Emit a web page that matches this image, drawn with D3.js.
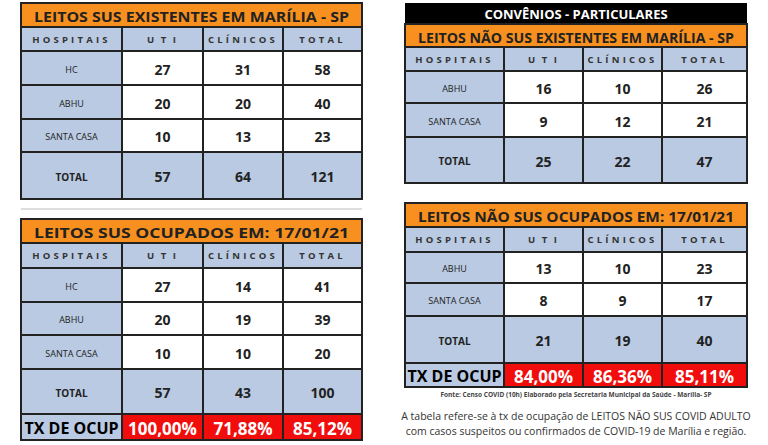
<!DOCTYPE html>
<html><head><meta charset="utf-8">
<script src="https://cdn.jsdelivr.net/npm/d3@7"></script>
<style>body{margin:0;background:#fff}svg{display:block}text{font-family:"Open Sans",sans-serif}</style>
</head><body><svg id="c" width="768" height="445"></svg>
<script>
const columns = ['HOSPITAIS', 'U T I', 'CLÍNICOS', 'TOTAL']

// SUS beds
const susHospitals = ['HC', 'ABHU', 'SANTA CASA']
const susExistUti = [27, 20, 10]
const susExistClin = [31, 20, 13]
const susOccUti = [27, 20, 10]
const susOccClin = [14, 19, 10]
const susOccRate = ['100,00%', '71,88%', '85,12%']

// non-SUS beds
const privHospitals = ['ABHU', 'SANTA CASA']
const privExistUti = [16, 9]
const privExistClin = [10, 12]
const privOccUti = [13, 8]
const privOccClin = [10, 9]
const privOccRate = ['84,00%', '86,36%', '85,11%']

const ORANGE = '#f7901e', BLUE = '#b9cae2', RED = '#f20d0d'
const svg = d3.select('#c')

function rowsOf(names, uti, clin) {
  const rows = names.map((n, i) => [n, uti[i], clin[i], uti[i] + clin[i]])
  rows.push(['TOTAL', d3.sum(uti), d3.sum(clin), d3.sum(uti) + d3.sum(clin)])
  return rows
}

// cfg: x0,x edges, y edges for title/header/rows
function table(cfg, title, rows, rate) {
  const g = svg.append('g')
  const x = cfg.cols
  const y = cfg.rows
  const w = x[4] - x[0]
  if (cfg.banner) {
    g.append('rect').attr('x', x[0]).attr('y', cfg.banner[0]).attr('width', w)
      .attr('height', cfg.banner[1] - cfg.banner[0]).attr('fill', '#000')
    g.append('text').attr('x', x[0] + w / 2).attr('y', (cfg.banner[0] + cfg.banner[1]) / 2)
      .attr('text-anchor', 'middle').attr('dominant-baseline', 'central')
      .attr('fill', '#fff').attr('font-family', 'Liberation Sans, Arial').attr('font-weight', 700)
      .attr('font-size', 13).text('CONVÊNIOS - PARTICULARES')
  }
  g.append('rect').attr('x', x[0]).attr('y', y[0]).attr('width', w).attr('height', y[1] - y[0])
    .attr('fill', ORANGE).attr('stroke', '#222').attr('stroke-width', 2)
  g.append('text').attr('x', x[0] + w / 2).attr('y', (y[0] + y[1]) / 2 + 1)
    .attr('text-anchor', 'middle').attr('dominant-baseline', 'central')
    .attr('font-weight', 700).attr('font-size', 15).attr('fill', '#222')
    .attr('textLength', w - 26).attr('lengthAdjust', 'spacingAndGlyphs').text(title)

  // header
  columns.forEach((c, j) => {
    g.append('rect').attr('x', x[j]).attr('y', y[1]).attr('width', x[j + 1] - x[j]).attr('height', y[2] - y[1])
      .attr('fill', BLUE).attr('stroke', '#222').attr('stroke-width', 2)
    g.append('text').attr('x', (x[j] + x[j + 1]) / 2).attr('y', (y[1] + y[2]) / 2)
      .attr('text-anchor', 'middle').attr('dominant-baseline', 'central')
      .attr('font-weight', 700).attr('font-size', 9.5).attr('letter-spacing', c.includes(' ') ? 2 : 3.2)
      .attr('fill', '#333').text(c)
  })
  rows.forEach((r, i) => {
    const top = y[i + 2], bot = y[i + 3]
    const isTotal = i === rows.length - 1
    r.forEach((v, j) => {
      g.append('rect').attr('x', x[j]).attr('y', top).attr('width', x[j + 1] - x[j]).attr('height', bot - top)
        .attr('fill', j === 0 || isTotal ? BLUE : '#fff').attr('stroke', '#222').attr('stroke-width', 2)
      g.append('text').attr('x', (x[j] + x[j + 1]) / 2).attr('y', (top + bot) / 2 + 1)
        .attr('text-anchor', 'middle').attr('dominant-baseline', 'central')
        .attr('font-weight', j === 0 && !isTotal ? 400 : 700)
        .attr('font-size', j === 0 ? (isTotal ? 10 : 9) : 14)
        .attr('fill', '#222').text(v)
    })
  })
  if (rate) {
    const top = y[rows.length + 2], bot = y[rows.length + 3]
    ;['TX DE OCUP'].concat(rate).forEach((v, j) => {
      g.append('rect').attr('x', x[j]).attr('y', top).attr('width', x[j + 1] - x[j]).attr('height', bot - top)
        .attr('fill', j === 0 ? BLUE : RED).attr('stroke', '#222').attr('stroke-width', 2)
      g.append('text').attr('x', (x[j] + x[j + 1]) / 2).attr('y', (top + bot) / 2 + 1)
        .attr('text-anchor', 'middle').attr('dominant-baseline', 'central')
        .attr('font-family', 'Liberation Sans, Arial').attr('font-weight', 700)
        .attr('font-size', j === 0 ? 16 : 17).attr('fill', j === 0 ? '#000' : '#fff').text(v)
    })
  }
}

const leftCols = [21, 122, 203, 283, 362]
const rightCols = [405, 504, 583, 662, 747]

table({ cols: leftCols, rows: [3, 27, 51, 85, 119, 152, 199] },
  'LEITOS SUS EXISTENTES EM MARÍLIA - SP', rowsOf(susHospitals, susExistUti, susExistClin))
table({ cols: leftCols, rows: [219, 243, 268, 302, 335, 369, 414, 440] },
  'LEITOS SUS OCUPADOS EM:      17/01/21', rowsOf(susHospitals, susOccUti, susOccClin), susOccRate)
table({ cols: rightCols, rows: [24, 47, 71, 103, 137, 183], banner: [3, 24] },
  'LEITOS NÃO SUS EXISTENTES EM MARÍLIA - SP', rowsOf(privHospitals, privExistUti, privExistClin))
table({ cols: rightCols, rows: [203, 227, 252, 283, 316, 363, 387] },
  'LEITOS NÃO  SUS OCUPADOS EM:    17/01/21', rowsOf(privHospitals, privOccUti, privOccClin), privOccRate)

// separator line under top-left table
svg.append('line').attr('x1', 21).attr('x2', 362).attr('y1', 209).attr('y2', 209).attr('stroke', '#bbb')

svg.append('text').attr('x', 576).attr('y', 397).attr('text-anchor', 'middle')
  .attr('font-family', 'Liberation Sans, Arial').attr('font-weight', 700).attr('font-size', 6.5).attr('fill', '#444')
  .text('Fonte: Censo COVID (10h) Elaborado pela Secretaria Municipal da Saúde - Marília- SP')
const note = ['A tabela refere-se à tx de ocupação de LEITOS NÃO SUS COVID ADULTO',
  'com casos suspeitos ou confirmados de COVID-19 de Marília e região.']
svg.selectAll('text.note').data(note).join('text').attr('class', 'note')
  .attr('x', 576).attr('y', (d, i) => 420 + i * 15).attr('text-anchor', 'middle')
  .attr('font-family', 'Liberation Sans, Arial').attr('font-size', 10.5).attr('fill', '#333').text(d => d)
</script></body></html>
